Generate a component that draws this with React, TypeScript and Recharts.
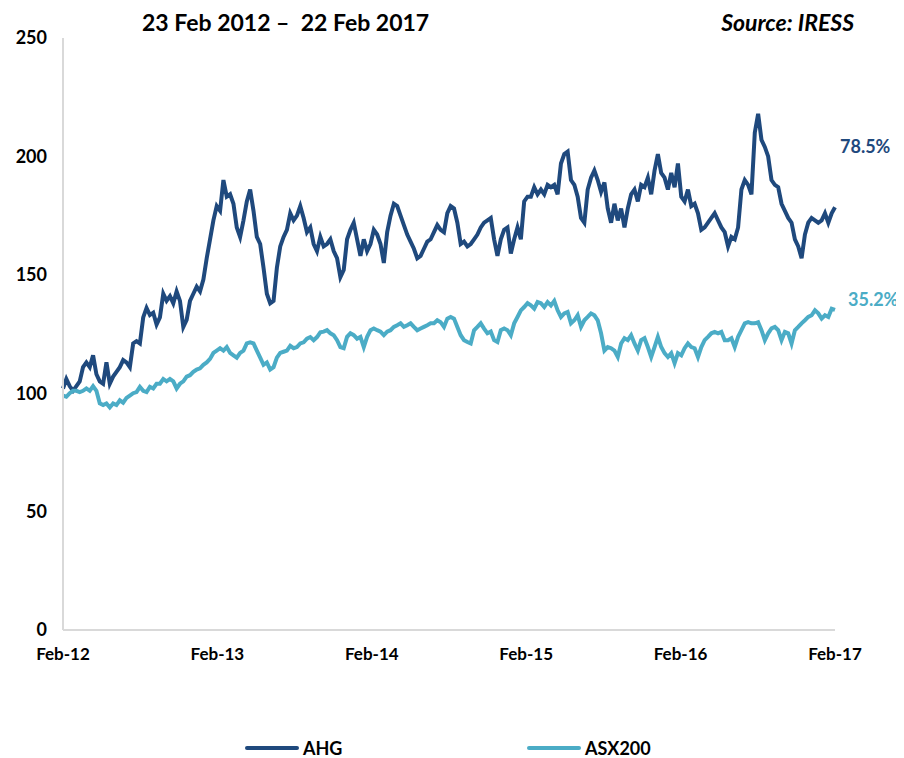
import React from 'react';
import { LineChart, Line, XAxis, YAxis, Legend } from 'recharts';

// AHG vs ASX200, rebased to 100 at 23 Feb 2012 (~12 day steps)
const ahgValues = [
  102, 106, 103, 101, 103, 105, 111, 113, 111, 116,
  108, 105, 104, 113, 104, 107, 109, 111, 114, 113,
  111, 121, 122, 121, 132, 136, 133, 134, 129, 132,
  142, 139, 141, 138, 143, 139, 128, 131, 139, 142,
  145, 143, 148, 157, 165, 173, 179, 177, 190, 183,
  184, 180, 170, 166, 173, 181, 186, 177, 166, 163,
  153, 142, 138, 139, 153, 162, 166, 169, 176, 173,
  175, 179, 174, 168, 170, 163, 160, 166,
  162, 163, 165, 160, 157, 149, 152, 165, 169, 172,
  165, 158, 165, 160, 163, 169, 167, 163, 155, 168,
  175, 180, 179, 175, 171, 167, 164, 161, 157, 158,
  161, 164, 165, 168, 171, 169, 168, 176, 179, 178,
  172, 163, 164, 162, 163, 165, 167, 170, 172, 173,
  174, 165, 158, 165, 169, 170, 159, 165, 170, 165,
  181, 183, 183, 187, 184, 186, 184, 188, 187, 188,
  184, 197, 201, 202, 190, 188, 183, 174,
  172, 186, 191, 194, 190, 185, 189, 178, 172, 180,
  173, 178, 170, 178, 184, 186, 181, 188, 187, 191,
  184, 194, 201, 193, 191, 186, 193, 187, 197, 183,
  181, 186, 179, 180, 176, 169, 170, 172, 174, 176,
  173, 170, 168, 162, 166, 165, 170, 186, 190, 188,
  184, 210, 218, 207, 204, 200, 190, 188, 187, 180,
  177, 174, 172, 165, 162, 157, 167, 172, 174, 173,
  172, 173, 176, 172, 176, 178.5,
];

const asxValues = [
  99, 98.5, 100, 101, 101, 100.5, 101, 102, 101, 103,
  101, 95.7, 95, 95.7, 94, 95.7, 95, 97, 96, 98,
  99, 100, 100.5, 102.7, 101, 100.5, 102.7, 102, 104, 104,
  106, 105, 106, 105, 102, 104, 105, 107, 107.6, 109,
  110, 110.5, 112, 113, 114.5, 117, 118, 119, 118, 119.5,
  117, 116, 115, 117, 118, 121, 121.5, 121, 118, 115,
  112, 113, 110, 111, 115, 117, 117.5, 118, 120, 119,
  119.5, 121, 121.5, 123, 123.7, 122.4, 123.7, 125.7,
  126, 126.6, 125.3, 124.5, 122.4, 119.5, 119, 123.8, 125.3, 124.5,
  123, 123.8, 119.5, 123.8, 126.6, 127.3, 126.6, 126, 124.5, 126,
  126.6, 128, 128.7, 129.5, 128, 128.7, 129.5, 128, 126.6, 127.3,
  128, 128.7, 129.5, 129.5, 130.8, 130, 128, 131.5, 132.2, 131.5,
  128, 124.5, 122.4, 121.6, 121, 126.6, 128, 129.5, 127.3, 125.3,
  126, 122.4, 121.6, 126.6, 127.3, 126.6, 124.5, 129.5, 132.2, 135,
  136.4, 138, 137.1, 135.7, 138.5, 138, 136.4, 138.5, 137.1, 139,
  135, 132.2, 133.7, 134.3, 129.5, 130.8, 132.9, 128,
  130.8, 132.2, 133.7, 132.9, 130.8, 125.3, 118, 119.5, 119, 118,
  115.3, 121, 123.2, 122.4, 124.5, 121, 118, 122.4, 123.2, 119.5,
  115.3, 119.5, 123.8, 119.5, 116.9, 115.3, 116.9, 112.7, 116.9, 116,
  119, 121, 119.5, 119, 115.3, 119.5, 122.4, 123.8, 125.3, 125.9,
  125.3, 125.9, 122.4, 122.4, 123.2, 119.5, 123.8, 126.6, 129.5, 130,
  129.5, 129.5, 130, 126.6, 122.4, 125.3, 127.4, 128, 126.6, 122.4,
  125.9, 125.3, 121, 126.6, 128, 129.5, 130.8, 132.2, 132.9, 135,
  133.7, 131.5, 132.9, 132.2, 135.7, 135.2,
];

const xTickLabels = ['Feb-12', 'Feb-13', 'Feb-14', 'Feb-15', 'Feb-16', 'Feb-17'];
const yTicks = [0, 50, 100, 150, 200, 250];

const AHG_COLOR = '#1F497D';
const ASX_COLOR = '#4BACC6';
const FONT = 'Lato, "Open Sans", sans-serif';

// years since start, 5 years in total
const data = ahgValues.map((v, i) => ({
  t: (i * 5) / (ahgValues.length - 1),
  ahg: v,
  asx: asxValues[i],
}));

const renderLegend = () => (
  <div style={{ position: 'relative', height: 28, fontFamily: FONT, fontWeight: 700, fontSize: 18 }}>
    {[
      { name: 'AHG', color: AHG_COLOR, left: 237 },
      { name: 'ASX200', color: ASX_COLOR, left: 519 },
    ].map((it) => (
      <div key={it.name} style={{ position: 'absolute', left: it.left, top: 6, height: 24, display: 'flex', alignItems: 'center' }}>
        <div style={{ width: 54, height: 4, borderRadius: 2, background: it.color, marginRight: 4 }} />
        <span style={{ color: '#000' }}>{it.name}</span>
      </div>
    ))}
  </div>
);

const App: React.FC = () => {
  return (
    <div style={{ position: 'relative', width: 888, height: 750, fontFamily: FONT, background: '#fff' }}>
      <div style={{ position: 'absolute', left: 134, top: 0, fontSize: 23, fontWeight: 700, color: '#000', whiteSpace: 'pre' }}>
        {'23 Feb 2012 \u2013  22 Feb 2017'}
      </div>
      <div style={{ position: 'absolute', right: 42, top: 0, fontSize: 23, fontWeight: 700, fontStyle: 'italic', color: '#000' }}>
        Source: IRESS
      </div>
      <div style={{ position: 'absolute', left: 832, top: 127, fontSize: 18, fontWeight: 700, color: AHG_COLOR }}>
        78.5%
      </div>
      <div style={{ position: 'absolute', left: 840, top: 280, fontSize: 18, fontWeight: 700, color: ASX_COLOR }}>
        35.2%
      </div>
      <LineChart width={888} height={750} data={data} margin={{ top: 30, right: 61, bottom: 60, left: 0 }}>
        <XAxis
          dataKey="t"
          type="number"
          domain={[0, 5]}
          ticks={[0, 1, 2, 3, 4, 5]}
          tickFormatter={(v: number) => xTickLabels[v]}
          axisLine={{ stroke: '#D9D9D9', strokeWidth: 2 }}
          tickLine={false}
          tickMargin={12}
          height={40}
          tick={{ fill: '#000', fontSize: 17, fontWeight: 700, fontFamily: FONT }}
        />
        <YAxis
          domain={[0, 250]}
          ticks={yTicks}
          width={55}
          axisLine={{ stroke: '#D9D9D9', strokeWidth: 2 }}
          tickLine={false}
          tickMargin={10}
          tick={{ fill: '#000', fontSize: 18, fontWeight: 700, fontFamily: FONT }}
        />
        <Legend verticalAlign="bottom" content={renderLegend} wrapperStyle={{ left: 0, bottom: 0, width: 888 }} />
        <Line dataKey="ahg" name="AHG" stroke={AHG_COLOR} strokeWidth={4} dot={false} isAnimationActive={false} />
        <Line dataKey="asx" name="ASX200" stroke={ASX_COLOR} strokeWidth={4} dot={false} isAnimationActive={false} />
      </LineChart>
    </div>
  );
};

export default App;
